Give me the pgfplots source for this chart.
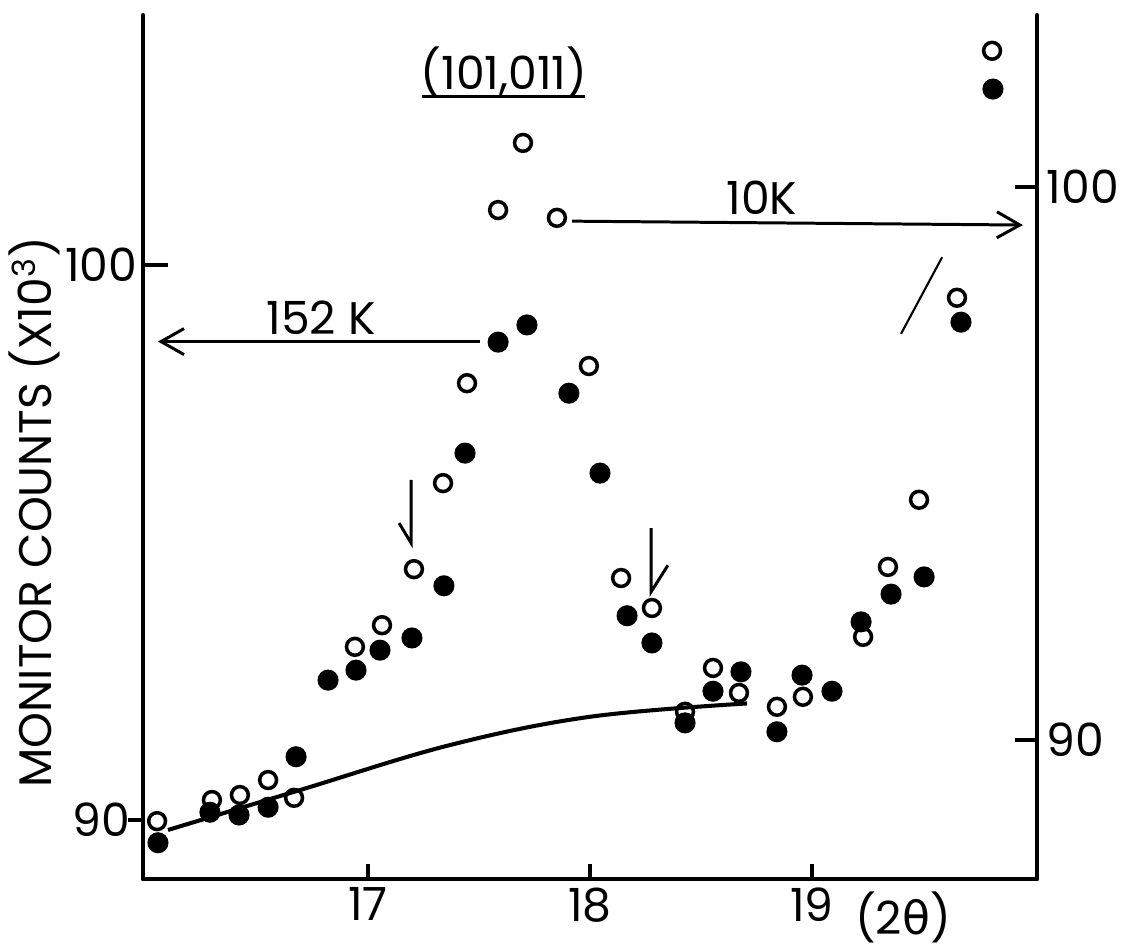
\documentclass[border=0pt]{standalone}
\usepackage{fontspec}
\setmainfont{Poppins}[Numbers=Proportional]
\newfontfamily\grk{DejaVu Sans}
\usepackage{pgfplots}
\pgfplotsset{compat=1.18}
\usetikzlibrary{arrows.meta}
\newcommand{\lf}{\fontsize{13}{15}\selectfont}
\pgfplotsset{myaxis/.style={scale only axis, width=8.94cm, height=8.64cm,
  at={(1.43cm,0.69cm)}, anchor=south west,
  xmin=15.9865, xmax=20.0135, ymin=88.937, ymax=104.505, clip=false,
  axis line style={line width=1.15pt, line cap=round, black},
  tick style={line width=1.15pt, black}, tick align=inside, minor tick num=0}}
\begin{document}
\begin{tikzpicture}[font=\lf]
\useasboundingbox (0,0) rectangle (11.24,9.48);
% bottom axis with the data
\begin{axis}[myaxis, axis x line*=bottom, axis y line=none,
  xtick={17,18,19}, xticklabels={17,18,19}, major tick length=0.15cm,
  xticklabel style={anchor=north, inner sep=0pt, yshift=-0.08cm, font=\lf}]
% fitted curve
\addplot[black, line width=1.15pt, smooth, tension=0.6] coordinates {
(16.099,89.82) (16.694,90.54) (17.369,91.35) (18.000,91.86) (18.707,92.10)};
% 152 K (filled)
\addplot[only marks, mark=*, mark size=2.8pt, mark options={fill=black, draw=black, line width=0.4pt}] coordinates {
(16.054,89.59) (16.288,90.14) (16.419,90.09) (16.550,90.23) (16.676,91.14)
(16.820,92.52) (16.946,92.70) (17.054,93.06) (17.198,93.28) (17.342,94.22)
(17.437,96.61) (17.586,98.61) (17.716,98.92) (17.905,97.69) (18.045,96.25)
(18.167,93.68) (18.279,93.19) (18.428,91.75) (18.554,92.32) (18.680,92.67)
(18.842,91.59) (18.955,92.61) (19.090,92.32) (19.221,93.57) (19.356,94.07)
(19.505,94.38) (19.671,98.97) (19.815,103.17)};
% 10 K (open)
\addplot[only marks, mark=o, mark size=2.4pt, mark options={draw=black, line width=1pt}] coordinates {
(16.050,89.98) (16.297,90.36) (16.423,90.45) (16.550,90.72) (16.667,90.40)
(16.941,93.12) (17.063,93.51) (17.207,94.52) (17.338,96.07) (17.446,97.87)
(17.586,100.99) (17.698,102.20) (17.851,100.85) (17.995,98.18) (18.140,94.36)
(18.279,93.82) (18.428,91.95) (18.554,92.74) (18.671,92.29) (18.842,92.04)
(18.959,92.22) (19.230,93.30) (19.342,94.56) (19.482,95.77) (19.653,99.41)
(19.811,103.86)};
% arrows
\draw[line width=0.85pt, -{Straight Barb[length=0.23cm,width=0.26cm,line width=0.85pt]}]
  (axis cs:17.505,98.62) -- (axis cs:16.054,98.62);
\draw[line width=0.85pt, -{Straight Barb[length=0.23cm,width=0.26cm,line width=0.85pt]}]
  (axis cs:17.919,100.79) -- (axis cs:19.950,100.72);
\draw[line width=0.85pt, line join=miter] (axis cs:17.194,96.13) -- (axis cs:17.194,94.99) -- (axis cs:17.140,95.35);
\draw[line width=0.85pt, line join=miter] (axis cs:18.275,95.26) -- (axis cs:18.275,94.11) -- (axis cs:18.351,94.59);
\draw[line width=0.6pt] (axis cs:19.586,100.14) -- (axis cs:19.401,98.76);
\end{axis}
% left axis
\begin{axis}[myaxis, axis x line=none, axis y line*=left,
  ytick={100}, yticklabels={100}, major tick length=0.25cm,
  yticklabel style={anchor=east, inner sep=0pt, xshift=-0.05cm, font=\lf},
  extra y ticks={90}, extra y tick labels={90},
  extra tick style={tick align=outside, major tick length=0.15cm, yticklabel style={xshift=0.08cm}}]
\end{axis}
% right axis
\begin{axis}[myaxis, axis x line=none, axis y line*=right,
  ytick={91.44,101.405}, yticklabels={90,100}, major tick length=0.22cm,
  yticklabel style={anchor=west, inner sep=0pt, xshift=0.09cm, font=\lf}]
\end{axis}
\node[rotate=90] at (0.34,4.36) {MONITOR COUNTS (X10\textsuperscript{3})};
\node at (3.21,6.30) {152 K};
\node at (7.62,7.50) {10K};
\node at (5.04,8.76) {(101,011)};
\draw[line width=0.85pt] (4.22,8.51) -- (5.85,8.51);
\node at (9.03,0.31) {(2{\grk θ})};
\end{tikzpicture}
\end{document}
